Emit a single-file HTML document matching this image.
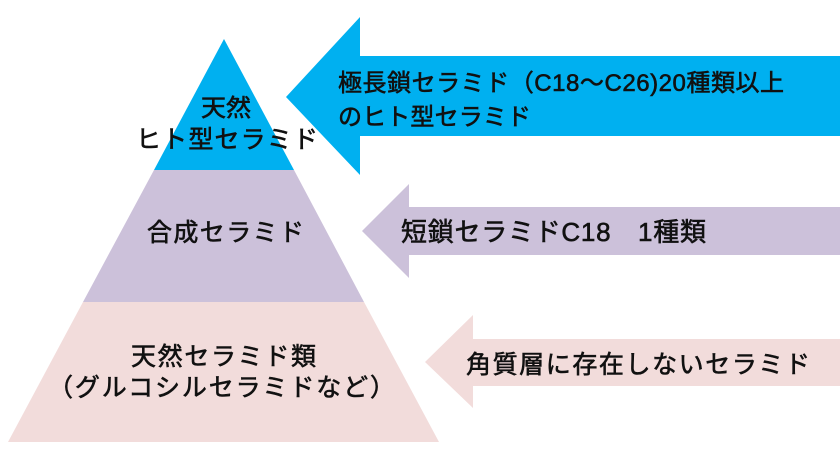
<!DOCTYPE html>
<html>
<head>
<meta charset="utf-8">
<style>
  html, body { margin:0; padding:0; background:#ffffff; }
  svg { display:block; }
  text { font-family: "Liberation Sans", "Noto Sans CJK JP", sans-serif; fill:#111111; stroke:#111111; stroke-width:0.6px; }
</style>
</head>
<body>
<svg width="840" height="472" viewBox="0 0 840 472" xmlns="http://www.w3.org/2000/svg">
  <rect x="0" y="0" width="840" height="472" fill="#ffffff"/>

  <!-- Pyramid -->
  <polygon points="224,39 154,170 294,170" fill="#00B0F0"/>
  <polygon points="154,170 294,170 364,302 83,302" fill="#CCC1DA"/>
  <polygon points="83,302 364,302 439,442 8,442" fill="#F2DCDB"/>

  <!-- Arrows -->
  <polygon points="286,97 360,17 360,56 840,56 840,136 360,136 360,175" fill="#00B0F0"/>
  <polygon points="362,231 409,184 409,207 840,207 840,255 409,255 409,278" fill="#CCC1DA"/>
  <polygon points="425,362 473,315 473,339 840,339 840,386 473,386 473,408" fill="#F2DCDB"/>

  <!-- Pyramid labels -->
  <text x="201" y="116" font-size="24" textLength="50" lengthAdjust="spacingAndGlyphs">天然</text>
  <text x="136" y="148" font-size="25" textLength="182" lengthAdjust="spacing">ヒト型セラミド</text>
  <text x="147" y="241" font-size="25" textLength="157" lengthAdjust="spacing">合成セラミド</text>
  <text x="131" y="365" font-size="25" textLength="185" lengthAdjust="spacing">天然セラミド類</text>
  <text x="48" y="396" font-size="25" textLength="347" lengthAdjust="spacing">（グルコシルセラミドなど）</text>

  <!-- Arrow labels -->
  <text x="338" y="91" font-size="24" textLength="446" lengthAdjust="spacing">極長鎖セラミド（C18〜C26)20種類以上</text>
  <text x="338" y="125" font-size="24" textLength="193" lengthAdjust="spacing">のヒト型セラミド</text>
  <text x="401" y="241" font-size="26" textLength="305" lengthAdjust="spacing">短鎖セラミドC18　1種類</text>
  <text x="466" y="373" font-size="25" textLength="344" lengthAdjust="spacing">角質層に存在しないセラミド</text>
</svg>
</body>
</html>
